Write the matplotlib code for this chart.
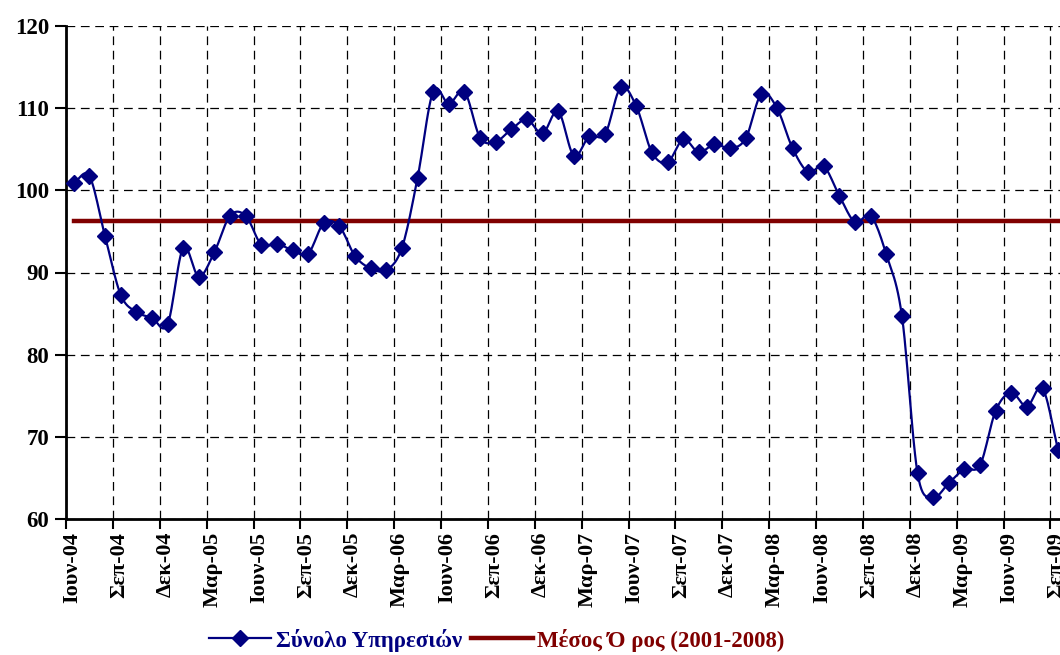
import numpy as np
import matplotlib
matplotlib.use("Agg")
import matplotlib.pyplot as plt
from matplotlib.lines import Line2D

# monthly index, Jun-04 .. Sep-09
services = [
    100.9, 101.7, 94.4, 87.3, 85.2, 84.5, 83.7, 93.0, 89.5, 92.5,
    96.9, 96.9, 93.4, 93.5, 92.7, 92.3, 96.0, 95.6, 92.0, 90.5,
    90.3, 93.0, 101.5, 112.0, 110.5, 112.0, 106.4, 105.9, 107.4, 108.6,
    106.9, 109.6, 104.2, 106.6, 106.8, 112.5, 110.2, 104.6, 103.4, 106.2,
    104.6, 105.6, 105.1, 106.3, 111.7, 110.0, 105.1, 102.2, 102.9, 99.3,
    96.1, 96.9, 92.2, 84.7, 65.6, 62.7, 64.4, 66.1, 66.6, 73.2,
    75.4, 73.7, 75.9, 68.4,
]
mean_level = 96.3
tick_labels = [
    "Ιουν-04", "Σεπ-04", "Δεκ-04", "Μαρ-05", "Ιουν-05", "Σεπ-05", "Δεκ-05",
    "Μαρ-06", "Ιουν-06", "Σεπ-06", "Δεκ-06", "Μαρ-07", "Ιουν-07", "Σεπ-07",
    "Δεκ-07", "Μαρ-08", "Ιουν-08", "Σεπ-08", "Δεκ-08", "Μαρ-09", "Ιουν-09",
    "Σεπ-09",
]
series_names = ["Σύνολο Υπηρεσιών", "Μέσος Ό ρος (2001-2008)"]

NAVY = "#000080"
DARKRED = "#800000"

plt.rcParams["font.family"] = ["Liberation Serif", "DejaVu Serif"]
plt.rcParams["font.weight"] = "bold"


def smooth(x, y, steps=12):
    # Catmull-Rom curve through the points, like Excel's smoothed line
    x = np.asarray(x, float)
    y = np.asarray(y, float)
    px = np.concatenate([[2 * x[0] - x[1]], x, [2 * x[-1] - x[-2]]])
    py = np.concatenate([[2 * y[0] - y[1]], y, [2 * y[-1] - y[-2]]])
    t = np.linspace(0, 1, steps, endpoint=False)
    xs, ys = [], []
    for i in range(1, len(px) - 2):
        for p, out in ((px, xs), (py, ys)):
            p0, p1, p2, p3 = p[i - 1], p[i], p[i + 1], p[i + 2]
            out.append(0.5 * (2 * p1 + (-p0 + p2) * t
                              + (2 * p0 - 5 * p1 + 4 * p2 - p3) * t ** 2
                              + (-p0 + 3 * p1 - 3 * p2 + p3) * t ** 3))
    xs.append([x[-1]])
    ys.append([y[-1]])
    return np.concatenate(xs), np.concatenate(ys)


fig = plt.figure(figsize=(10.6, 6.55), dpi=100)
W, H = 1060, 655
left, right, top, bottom = 66, 1066, 25.7, 519.3
ax = fig.add_axes([left / W, 1 - bottom / H, (right - left) / W, (bottom - top) / H])

x = np.arange(len(services))
sx, sy = smooth(x, services)
ax.plot([x[0], x[-1]], [mean_level, mean_level], color=DARKRED, lw=3.2, zorder=3)
ax.plot(sx, sy, color=NAVY, lw=1.6, zorder=4)
ax.plot(x, services, ls="none", marker="D", ms=8, color=NAVY, zorder=5)

ax.set_xlim(-0.5, len(services) - 0.5)
ax.set_ylim(60, 120)
ax.set_yticks(range(60, 121, 10))

major = np.arange(-0.5, len(services), 3)
ax.set_xticks(major)
ax.set_xticklabels([])
ax.set_xticks(np.arange(len(tick_labels)) * 3 - 0.12, minor=True)
ax.set_xticklabels(tick_labels, minor=True, rotation=90, fontsize=16,
                   fontweight="bold")
ax.tick_params(axis="x", which="minor", length=0, pad=9)
ax.tick_params(axis="x", which="major", length=7, width=1.5, direction="out")
ax.tick_params(axis="y", length=8, width=1.5, direction="out", labelsize=16.5, pad=4)
for lab in ax.get_yticklabels():
    lab.set_fontweight("bold")

ax.grid(True, which="major", color="black", lw=0.9, ls=(0, (7, 4.5)))
for s in ("top", "right"):
    ax.spines[s].set_visible(False)
for s in ("left", "bottom"):
    ax.spines[s].set_linewidth(2)
ax.set_axisbelow(True)

handles = [
    Line2D([], [], color=NAVY, lw=1.6, marker="D", ms=8),
    Line2D([], [], color=DARKRED, lw=3.2),
]
leg = fig.legend(handles, series_names, loc="center", ncol=2, frameon=False,
                 bbox_to_anchor=(497 / W, 1 - 640 / H),
                 handlelength=2.7, handletextpad=0.2, columnspacing=0.4,
                 prop={"weight": "bold", "size": 16.5})
for txt, c in zip(leg.get_texts(), [NAVY, DARKRED]):
    txt.set_color(c)

fig.savefig("out.png", dpi=100)
